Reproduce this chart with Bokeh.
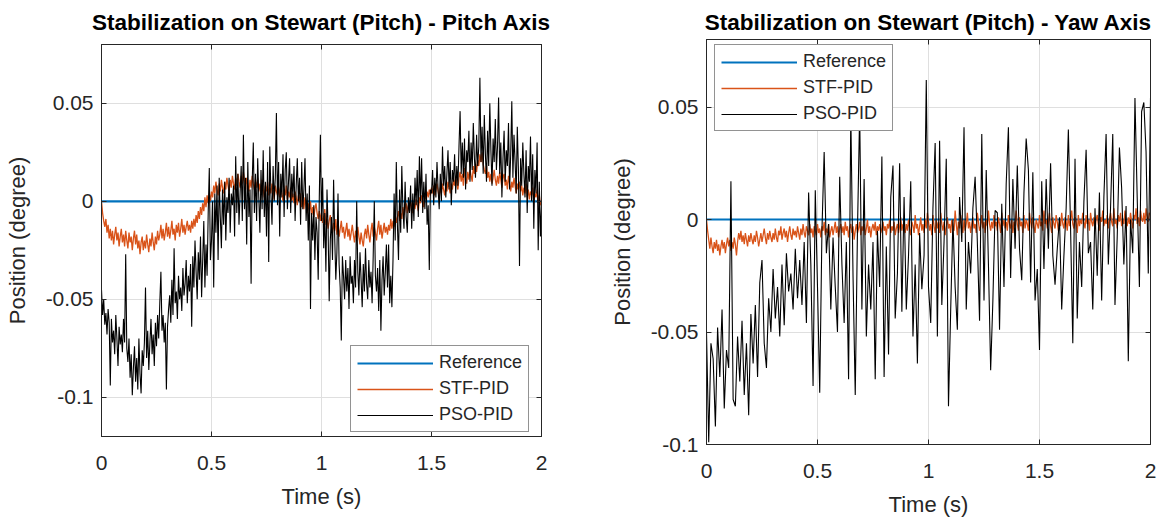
from bokeh.plotting import figure
from bokeh.layouts import row, column
from bokeh.models import FixedTicker, LinearAxis, Range1d, Legend, LegendItem, ColumnDataSource
from bokeh.embed import file_html
from bokeh.resources import INLINE

FONT = "Liberation Sans"
BLUE = "#0072BD"
ORANGE = "#D95319"
BLACK = "#000000"
AX = "#262626"
GRID = "#dfdfdf"

# ---------------- data ----------------
x_ticks = [0, 0.5, 1, 1.5, 2]
x_tick_labels = ["0", "0.5", "1", "1.5", "2"]
y_ticks = [-0.1, -0.05, 0, 0.05]
y_tick_labels = ["-0.1", "-0.05", "0", "0.05"]

series_names = ["Reference", "STF-PID", "PSO-PID"]
titles = ["Stabilization on Stewart (Pitch) - Pitch Axis",
          "Stabilization on Stewart (Pitch) - Yaw Axis"]

ref_time = [0, 2]
ref_value = [0, 0]

step_fine = 0.005     # s, sample step of the 401-point series
step_coarse = 0.01    # s, sample step of the 201-point series

# values in milli-degree (1e-3 degree)
pitch_stf_mdeg = [
    0, -6, -10, -13, -9, -16, -12, -19, -14, -20, -15, -22, -17, -13, -20, -16, -23, -18, -14, -21,
    -17, -23, -15, -20, -24, -16, -21, -18, -25, -19, -15, -22, -17, -24, -20, -27, -21, -18, -25, -20,
    -24, -17, -22, -26, -19, -23, -16, -21, -25, -18, -22, -15, -20, -17, -12, -19, -14, -20, -16, -11,
    -18, -13, -19, -15, -10, -17, -14, -20, -12, -16, -11, -18, -14, -9, -16, -12, -17, -13, -10, -15,
    -12, -16, -10, -14, -9, -13, -7, -11, -5, -9, -3, -7, -1, -5, 2, -3, 3, -1, 4, 0,
    5, 2, 8, 4, 10, 6, 3, 9, 5, 11, 7, 4, 10, 6, 12, 8, 5, 11, 7, 13,
    9, 6, 12, 8, 14, 10, 7, 13, 9, 15, 11, 6, 12, 8, 5, 11, 7, 13, 9, 6,
    10, 7, 12, 5, 9, 4, 11, 6, 2, 8, 5, 10, 3, 7, 4, 9, 6, 1, 8, 5,
    3, 7, 2, 9, 4, 0, 6, 3, 8, 1, 5, 2, 7, 0, 4, -1, 5, 2, -2, 3,
    0, 4, -3, 1, -4, 2, -2, -6, -1, -5, 0, -7, -3, -8, -4, -1, -6, -9, -5, -10,
    -6, -11, -8, -4, -12, -9, -14, -10, -7, -13, -16, -11, -15, -9, -17, -12, -18, -14, -10, -16,
    -13, -19, -15, -11, -18, -14, -20, -16, -12, -17, -21, -15, -19, -13, -18, -22, -16, -20, -23, -17,
    -14, -19, -12, -17, -21, -15, -11, -18, -13, -16, -20, -14, -10, -17, -12, -19, -15, -11, -16, -13,
    -17, -12, -15, -9, -14, -10, -13, -7, -11, -8, -5, -10, -6, -9, -3, -7, -4, -1, -6, -2,
    -5, 0, -3, -6, -1, -4, 1, -2, -5, 2, -1, 3, 0, -3, 4, 1, 5, 2, 6, 3,
    7, 4, 8, 3, 6, 9, 5, 2, 7, 4, 9, 6, 3, 8, 5, 10, 7, 4, 9, 6,
    11, 8, 13, 9, 6, 12, 15, 10, 14, 8, 17, 12, 9, 15, 11, 16, 13, 10, 18, 14,
    19, 15, 21, 18, 24, 20, 25, 19, 16, 14, 18, 12, 15, 10, 14, 9, 12, 16, 11, 8,
    13, 9, 15, 11, 7, 12, 14, 8, 11, 6, 13, 9, 5, 10, 7, 12, 8, 4, 9, 6,
    10, 5, 8, 3, 7, 4, 9, 2, 6, 1, 5, 3, 7, 0, 4, 2, 6, -1, 3, -2,
    0,
]

pitch_pso_mdeg = [
    -45, -58, -50, -63, -57, -68, -55, -62, -94, -60, -72, -66, -78, -58, -70, -84, -64, -73, -68, -77,
    -60, -72, -27, -75, -82, -70, -90, -78, -99, -85, -74, -92, -80, -96, -70, -88, -98, -76, -84, -72,
    -44, -80, -66, -86, -72, -60, -78, -68, -84, -62, -74, -58, -70, -52, -36, -66, -58, -72, -62, -96,
    -64, -55, -48, -62, -40, -58, -24, -52, -46, -60, -38, -50, -44, -56, -34, -48, -42, -30, -52, -38,
    -46, -32, -64, -28, -44, -20, -36, -50, -26, -40, -18, -49, -30, -10, -44, -22, -38, -6, 17, -30,
    -20, 0, -44, 4, -16, 8, -30, 12, -8, -24, 6, -12, 10, -20, 2, -6, 12, -16, 4, -2,
    8, -18, 23, -6, 14, -12, 4, 18, -10, 34, -4, 12, -22, 20, -8, 6, -42, 10, 30, -6,
    14, -10, 22, 2, -16, 16, -4, 26, -8, 10, -18, 20, -31, 28, 4, -12, 18, 0, 12, 45,
    -2, 20, -18, 14, 2, 24, -8, 16, 25, -4, 10, 22, -6, 14, 2, 18, -10, 8, 22, 0,
    12, -12, 20, -4, 6, 22, -10, 4, -20, 8, -55, -6, -20, -2, -30, -8, -16, -40, 2, 34,
    -10, 12, -24, -6, -36, 6, -14, -51, -20, -8, -30, 11, -18, -40, -26, 4, -32, -44, -71, -28,
    -38, -50, -30, -46, -34, -55, -28, -42, -38, -52, -30, -44, 0, -36, -48, -26, -40, -54, -32, -46,
    -24, -42, -50, -30, -44, -36, -52, -28, 0, -38, -46, -34, -56, -30, -66, -40, -28, -48, -36, -22,
    -44, -22, -52, -38, -54, -30, 4, -20, 20, -12, -30, 6, -16, 18, -4, -14, 10, -8, -16, 2,
    -6, 8, -14, 4, -10, 12, -2, 16, -8, 23, 0, 22, -6, 10, -4, 14, -12, -2, -35, 6,
    4, 16, -2, 12, 2, 20, 6, -4, 14, 0, 28, 8, 18, 2, 14, 26, 6, 20, -2, 16,
    10, 24, 4, 18, 8, 28, 46, 14, 30, 12, 32, 6, 26, 20, 36, 10, 30, 16, 40, 22,
    12, 34, 18, 28, 63, 20, 38, 14, 44, 24, 10, 36, 18, 50, 26, 8, 32, 20, 42, 16,
    28, 53, 14, 30, 2, 22, 36, 10, 26, 18, 40, 6, 24, 51, 12, 34, 20, 4, 38, 16,
    -33, 22, 8, 30, 14, 2, 26, -6, 18, 10, 33, 0, 24, -14, 16, 4, 30, -25, 10, -18,
    -2,
]

yaw_stf_mdeg = [
    0, -5, -9, -13, -8, -12, -15, -10, -13, -9, -14, -11, -16, -12, -9, -13, -10, -15, -11, -8,
    -12, -9, -14, -10, -13, -8, -11, -16, -10, -6, -9, -5, -10, -7, -11, -6, -9, -12, -7, -10,
    -6, -9, -11, -7, -10, -5, -8, -12, -9, -6, -10, -7, -4, -8, -11, -6, -9, -5, -8, -10,
    -6, -9, -4, -8, -10, -5, -7, -3, -9, -6, -4, -8, -5, -10, -6, -3, -7, -9, -4, -7,
    -5, -8, -3, -6, -9, -4, -7, -2, -6, -8, -3, -5, -7, -2, -6, -4, -8, -3, -5, -7,
    -2, -6, -4, -8, -3, -5, -1, -7, -4, -6, -2, -8, -5, -3, -7, -4, -1, -6, -3, -8,
    -4, -2, -6, -3, -7, -1, -5, -3, -8, -4, -2, -6, -3, -9, -5, -2, -6, -4, -1, -7,
    -3, -5, -2, -7, -4, 0, -6, -3, -8, -4, -2, -5, -1, -7, -3, -5, -2, -6, -4, -1,
    -5, -3, -7, -2, -4, 0, -6, -3, -5, -1, -7, -4, -2, -6, -3, 1, -5, -2, -4, -6,
    -2, -5, 0, -4, -7, -1, -3, -6, 2, -4, -2, -7, -3, 1, -5, -2, -6, 0, -4, 3,
    -1, -5, -2, -7, 2, -3, -6, 0, -4, -1, -6, 3, -2, -5, -1, -7, -3, 1, -4, -2,
    -6, 0, -3, -5, 4, -2, -7, -1, -4, 2, -3, -6, 0, -5, -2, 3, -4, -1, -6, -2,
    1, -4, -2, -6, 3, -1, -5, -3, 2, -4, -1, -6, 0, -3, 4, -2, -5, -1, -4, 2,
    -3, -1, -5, 1, -2, -6, 3, -3, 0, -4, -1, -5, 2, -2, -4, 0, -6, -1, -3, 4,
    -2, -5, 1, -3, -1, -6, 2, -4, 0, -2, -5, 3, -1, -4, 1, -3, -6, 0, -2, -4,
    2, -3, -1, -5, 4, -2, 0, -4, -1, 3, -3, -6, 1, -2, -4, 2, -1, -5, 0, -3,
    3, -2, -4, 1, -1, -5, 2, -3, 0, 4, -2, -4, 1, -1, -6, 2, -3, 0, -2, 3,
    -1, -4, 2, -2, 0, -5, 3, -1, -3, 1, -4, 0, 2, -2, -5, 1, -1, 4, -3, 0,
    -2, 2, -4, 0, 3, -1, -3, 5, -2, 0, -4, 2, -1, 3, -3, 0, -2, 4, -1, -3,
    1, -2, 3, -1, -4, 2, 0, 5, -2, 1, -3, 4, 0, -1, 3, -2, 5, 1, -1, 3,
    2,
]

yaw_pso_mdeg = [
    -50, -99, -55, -62, -92, -48, -70, -40, -84, -58,
    -66, 17, -80, -83, -52, -72, -45, -78, -55, -87,
    -42, -64, -38, -70, -28, -18, -55, -66, -35, -50,
    -22, -44, -30, -52, -20, -47, -15, -32, -24, -40,
    -13, -35, -18, -38, -10, -46, 12, -20, -74, 13,
    -30, -77, -5, 30, -15, -2, -40, -8, -30, -50,
    19, -20, -46, -10, -71, 47, -25, -78, -5, 48,
    -40, 18, -52, -20, -40, -10, -71, -5, -30, 28,
    -70, -12, -60, 10, 24, -44, -24, 25, -41, 10,
    -40, -16, 17, -52, -20, -64, -6, -31, -16, 62,
    -30, -46, 5, 34, -52, 35, -38, -10, 27, -83,
    -40, 0, -30, -49, 10, -10, 41, -40, -10, -24,
    5, 19, -10, -45, 38, -36, 22, -20, -67, -36,
    4, 3, -49, 7, -30, 16, 41, -26, 18, -13,
    24, -13, -27, 12, 36, 22, -28, 21, -36, -22,
    -58, 17, -22, 18, -13, 25, -16, -29, -13, 1,
    -40, -16, 5, 40, -4, -55, 27, -44, -10, -30,
    8, 31, -15, -10, -40, 5, -25, 12, -36, 10,
    38, -20, 5, 38, -38, -8, 32, 14, -20, 6,
    -63, 0, -15, 54, 10, -30, 48, 52, 30, -24,
    54,
]


def times(n, step):
    return [round(i * step, 4) for i in range(n)]


def to_deg(mdeg):
    return [v / 1000.0 for v in mdeg]


def style_axis(ax, ticks, labels, visible):
    ax.ticker = FixedTicker(ticks=ticks)
    ax.major_tick_in = 5
    ax.major_tick_out = 0
    ax.minor_tick_line_color = None
    ax.axis_line_color = AX
    ax.axis_line_width = 1
    ax.major_tick_line_color = AX
    ax.major_tick_line_width = 1
    if visible:
        ax.major_label_overrides = dict(zip(ticks, labels))
        ax.major_label_text_font = FONT
        ax.major_label_text_font_size = "21px"
        ax.major_label_text_color = AX
    else:
        ax.major_label_text_font_size = "0px"
        ax.major_label_text_color = None
        ax.major_label_standoff = 0


def make_panel(title, y_start, stf_mdeg, stf_step, pso_mdeg, pso_step,
               borders, title_standoff, title_valign, legend_loc):
    left, right, top, bottom = borders
    p = figure(width=582, height=519, output_backend="svg", toolbar_location=None,
               x_range=Range1d(0, 2), y_range=Range1d(y_start, 0.08),
               min_border_left=left, min_border_right=right,
               min_border_top=top, min_border_bottom=bottom,
               background_fill_color="white", border_fill_color="white")
    p.outline_line_color = AX
    p.outline_line_width = 1

    p.title.text = title
    p.title.text_font = FONT
    p.title.text_font_size = "22.5px"
    p.title.text_font_style = "bold"
    p.title.text_color = "#000000"
    p.title.align = "center"
    p.title.vertical_align = title_valign
    p.title.standoff = title_standoff

    xa = p.xaxis[0]
    ya = p.yaxis[0]
    style_axis(xa, x_ticks, x_tick_labels, True)
    style_axis(ya, y_ticks, y_tick_labels, True)
    xa.major_label_standoff = 19
    ya.major_label_standoff = 8
    xa.axis_label = "Time (s)"
    ya.axis_label = "Position (degree)"
    for ax in (xa, ya):
        ax.axis_label_text_font = FONT
        ax.axis_label_text_font_size = "22px"
        ax.axis_label_text_font_style = "normal"
        ax.axis_label_text_color = AX
    xa.axis_label_standoff = 11
    ya.axis_label_standoff = 13

    top_ax = LinearAxis()
    style_axis(top_ax, x_ticks, x_tick_labels, False)
    p.add_layout(top_ax, "above")
    right_ax = LinearAxis()
    style_axis(right_ax, y_ticks, y_tick_labels, False)
    p.add_layout(right_ax, "right")

    for g in p.grid:
        g.grid_line_color = GRID
        g.grid_line_width = 1

    ref_src = ColumnDataSource(dict(t=ref_time, y=ref_value))
    stf_src = ColumnDataSource(dict(t=times(len(stf_mdeg), stf_step), y=to_deg(stf_mdeg)))
    pso_src = ColumnDataSource(dict(t=times(len(pso_mdeg), pso_step), y=to_deg(pso_mdeg)))

    r_ref = p.line("t", "y", source=ref_src, line_color=BLUE, line_width=2.2)
    r_stf = p.line("t", "y", source=stf_src, line_color=ORANGE, line_width=1.3)
    r_pso = p.line("t", "y", source=pso_src, line_color=BLACK, line_width=1.1)

    legend = Legend(
        items=[LegendItem(label=series_names[0], renderers=[r_ref]),
               LegendItem(label=series_names[1], renderers=[r_stf]),
               LegendItem(label=series_names[2], renderers=[r_pso])],
        location=legend_loc, orientation="vertical",
        glyph_width=76, glyph_height=20, label_height=20, label_standoff=6,
        spacing=5, padding=6, margin=0,
        border_line_color=AX, border_line_width=1,
        background_fill_color="white", background_fill_alpha=1.0,
        label_text_font=FONT, label_text_font_size="18px", label_text_color=AX,
    )
    p.add_layout(legend)
    return p


p1 = make_panel(titles[0], -0.12, pitch_stf_mdeg, step_fine, pitch_pso_mdeg, step_fine,
                (101, 41, 44, 83), 15, "top", (249, 4))
p2 = make_panel(titles[1], -0.1, yaw_stf_mdeg, step_fine, yaw_pso_mdeg, step_coarse,
                (124, 14, 39, 75), 10, "bottom", (8, 313))

layout = row(column(p1), column(p2))
p = layout
open("out.html", "w").write(file_html(p, INLINE))
